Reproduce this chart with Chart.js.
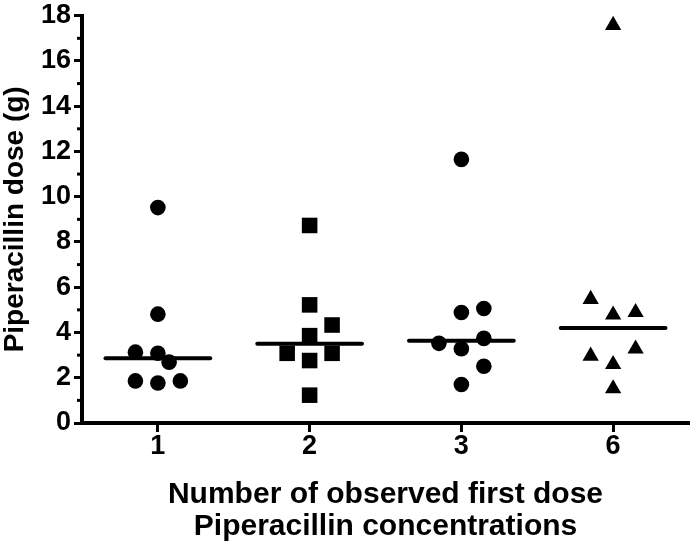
<!DOCTYPE html>
<html>
<head>
<meta charset="utf-8">
<script src="https://cdn.jsdelivr.net/npm/chart.js@4.4.1/dist/chart.umd.min.js"></script>
<style>
  html, body { margin: 0; padding: 0; background: #fff; }
  #wrap { width: 700px; height: 545px; }
</style>
</head>
<body>
<div id="wrap"><canvas id="c" width="700" height="545"></canvas></div>
<script>
// ---- data ----
const categories = ['1', '2', '3', '6'];
const yTicks = [0, 2, 4, 6, 8, 10, 12, 14, 16, 18];

const group1 = [9.52, 4.81, 3.13, 3.08, 2.69, 1.86, 1.77, 1.86];
const group2 = [8.73, 5.22, 4.33, 3.86, 3.08, 3.08, 2.76, 1.23];
const group3 = [11.65, 4.88, 5.06, 3.52, 3.28, 3.74, 2.51, 1.70];
const group4 = [17.58, 5.47, 4.78, 4.89, 2.96, 2.59, 3.28, 1.52];

// horizontal scatter (jitter) of each point, in columns of the dot plot
const jitter1 = [0, 0, -1, 0, 0.5, -1, 0, 1];
const jitter2 = [0, 0, 1, 0, -1, 1, 0, 0];
const jitter3 = [0, 0, 1, -1, 0, 1, 1, 0];
const jitter4 = [0, -1, 0, 1, -1, 0, 1, 0];

const medians = [2.86, 3.50, 3.64, 4.20];

// ---- build ----
const STEP = 0.148;
const HALF = 0.345;
function pts(vals, jit, cat) {
  return vals.map((v, i) => ({ x: cat + jit[i] * STEP, y: v }));
}
const groups = [group1, group2, group3, group4];
const jitters = [jitter1, jitter2, jitter3, jitter4];
const styles = ['circle', 'rect', 'circle', 'triangle'];
const radii = [7.8, 11, 7.8, 9.4];

const datasets = [];
medians.forEach((m, i) => {
  datasets.push({
    type: 'line',
    data: [{ x: i + 1 - HALF, y: m }, { x: i + 1 + HALF, y: m }],
    borderColor: '#000',
    borderWidth: 4,
    borderCapStyle: 'round',
    pointRadius: 0,
    fill: false,
    order: 2
  });
});
groups.forEach((g, i) => {
  datasets.push({
    type: 'scatter',
    data: pts(g, jitters[i], i + 1),
    pointStyle: styles[i],
    pointRadius: radii[i],
    pointHoverRadius: radii[i],
    backgroundColor: '#000',
    borderColor: '#000',
    borderWidth: 0,
    order: 1
  });
});

const FONT = "'Liberation Sans', Arial, sans-serif";

const minorTicks = {
  id: 'minorTicks',
  afterDraw(chart) {
    const y = chart.scales.y;
    const ctx = chart.ctx;
    const x0 = chart.chartArea.left;
    ctx.save();
    ctx.strokeStyle = '#000';
    ctx.lineWidth = 3;
    for (let v = 1; v < 18; v += 2) {
      const py = y.getPixelForValue(v);
      ctx.beginPath();
      ctx.moveTo(x0 - 5, py);
      ctx.lineTo(x0, py);
      ctx.stroke();
    }
    ctx.restore();
  }
};

new Chart(document.getElementById('c'), {
  type: 'scatter',
  data: { datasets },
  plugins: [minorTicks],
  options: {
    responsive: false,
    animation: false,
    events: [],
    clip: false,
    layout: { padding: { top: 0, right: 2, left: 0, bottom: 0 } },
    plugins: { legend: { display: false }, tooltip: { enabled: false } },
    scales: {
      x: {
        type: 'linear',
        min: 0.5,
        max: 4.5,
        afterBuildTicks(s) { s.ticks = categories.map((c, i) => ({ value: i + 1 })); },
        afterFit(s) { s.height = 122; },
        ticks: {
          color: '#000',
          font: { family: FONT, size: 27, weight: 'bold', lineHeight: 1 },
          padding: 1,
          maxRotation: 0,
          callback: (v) => categories[v - 1]
        },
        grid: { drawOnChartArea: false, tickLength: 9, tickWidth: 3, tickColor: '#000' },
        border: { display: true, color: '#000', width: 4 },
        title: {
          display: true,
          text: ['Number of observed first dose', 'Piperacillin concentrations'],
          color: '#000',
          font: { family: FONT, size: 30, weight: 'bold', lineHeight: 1.0667 },
          padding: { top: 4, bottom: 2 }
        }
      },
      y: {
        type: 'linear',
        min: 0,
        max: 18,
        afterBuildTicks(s) { s.ticks = yTicks.map(v => ({ value: v })); },
        afterFit(s) { s.width = 82; },
        ticks: {
          color: '#000',
          font: { family: FONT, size: 27, weight: 'bold', lineHeight: 0.94 },
          padding: 3
        },
        grid: { drawOnChartArea: false, tickLength: 8, tickWidth: 3, tickColor: '#000' },
        border: { display: true, color: '#000', width: 4 },
        title: {
          display: true,
          text: 'Piperacillin dose (g)',
          color: '#000',
          font: { family: FONT, size: 28, weight: 'bold', lineHeight: 1.07 },
          padding: { top: 0, bottom: 0 }
        }
      }
    }
  }
});
</script>
</body>
</html>
